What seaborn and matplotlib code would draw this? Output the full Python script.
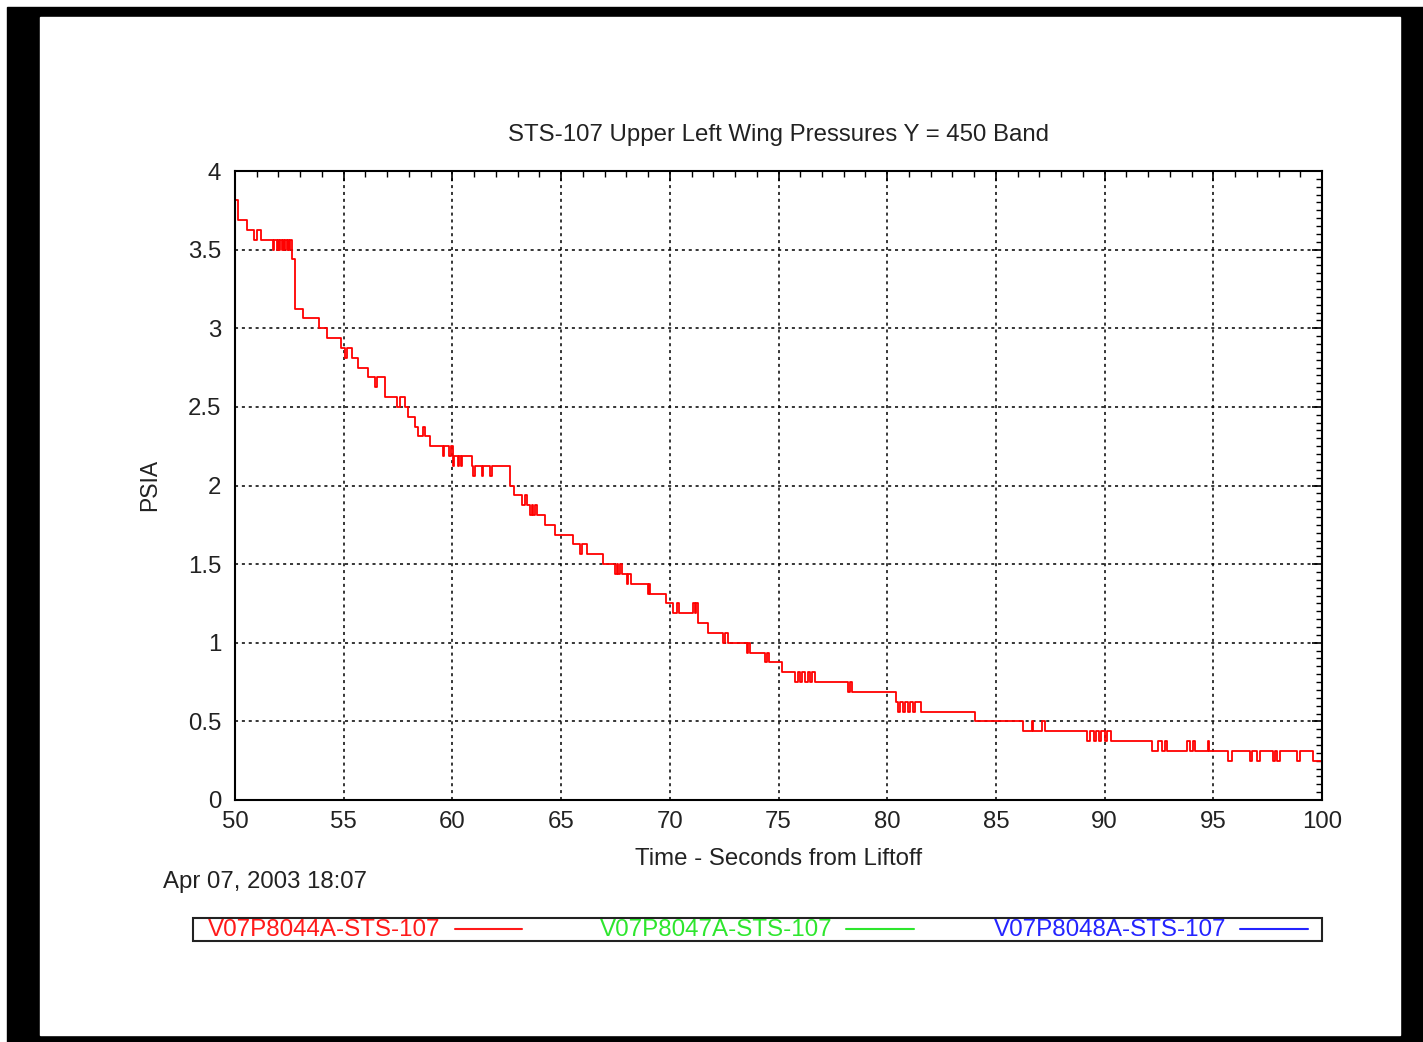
import matplotlib
matplotlib.use("Agg")
import matplotlib.pyplot as plt
from matplotlib.lines import Line2D
from matplotlib.patches import Rectangle
from matplotlib.ticker import MultipleLocator, FuncFormatter
import seaborn as sns
import pandas as pd

# step changes of V07P8044A (seconds from liftoff, psia), held until next change
times = [50.0, 50.15, 50.57, 50.89, 51.0, 51.2,
         51.73, 51.8, 51.92, 51.97, 52.04, 52.09, 52.15, 52.2, 52.27, 52.32,
         52.38, 52.43, 52.5, 52.55, 52.6, 52.76, 53.11, 53.88, 54.25, 54.88,
         55.06, 55.17, 55.37, 55.64, 56.13, 56.44, 56.52, 56.9, 57.44, 57.59,
         57.82, 57.97, 58.28, 58.43, 58.63, 58.74, 58.97,
         59.55, 59.62, 59.85, 59.92, 60.04, 60.08, 60.27, 60.32, 60.38, 60.43,
         60.89, 60.96, 61.05, 61.35, 61.42, 61.73, 61.81, 62.65, 62.83,
         63.19, 63.34, 63.45, 63.57, 63.65, 63.72, 63.8, 63.9, 64.26, 64.72,
         65.56, 65.87, 65.95, 66.18, 66.94, 67.48, 67.55, 67.62, 67.7, 67.78,
         68.02, 68.1, 68.2, 69.01, 69.05, 69.1, 69.82, 70.16, 70.35, 70.42,
         71.08, 71.15, 71.2, 71.31, 71.77, 72.46, 72.54, 72.69, 73.54, 73.6,
         73.69, 74.38, 74.45, 74.55, 75.15, 75.76, 75.91, 76.0, 76.1, 76.2,
         76.35, 76.45, 76.55, 76.68, 78.21, 78.29, 78.37, 80.4, 80.51, 80.6,
         80.72, 80.82, 80.95, 81.05, 81.2, 81.3, 81.54, 84.04, 86.26, 86.64,
         86.72, 87.1, 87.26, 89.18, 89.35, 89.5, 89.6, 89.75, 89.85, 90.0,
         90.1, 90.3, 92.16, 92.47, 92.62, 92.78, 92.85, 93.77, 93.93, 94.08,
         94.16, 94.77, 94.8, 95.69, 95.84, 96.69, 96.77, 97.0, 97.15, 97.76,
         97.85, 97.95, 98.07, 98.83, 98.99, 99.6, 100.0]
psia = [3.8125, 3.6875, 3.625, 3.5625, 3.625, 3.5625,
        3.5, 3.5625, 3.5, 3.5625, 3.5, 3.5625, 3.5, 3.5625, 3.5, 3.5625,
        3.5, 3.5625, 3.5, 3.5625, 3.4375, 3.125, 3.0625, 3.0, 2.9375, 2.875,
        2.8125, 2.875, 2.8125, 2.75, 2.6875, 2.625, 2.6875, 2.5625, 2.5, 2.5625,
        2.5, 2.4375, 2.375, 2.3125, 2.375, 2.3125, 2.25,
        2.1875, 2.25, 2.1875, 2.25, 2.125, 2.1875, 2.125, 2.1875, 2.125, 2.1875,
        2.125, 2.0625, 2.125, 2.0625, 2.125, 2.0625, 2.125, 2.0, 1.9375,
        1.875, 1.9375, 1.875, 1.8125, 1.875, 1.8125, 1.875, 1.8125, 1.75, 1.6875,
        1.625, 1.5625, 1.625, 1.5625, 1.5, 1.4375, 1.5, 1.4375, 1.5, 1.4375,
        1.375, 1.4375, 1.375, 1.3125, 1.375, 1.3125, 1.25, 1.1875, 1.25, 1.1875,
        1.25, 1.1875, 1.25, 1.125, 1.0625, 1.0, 1.0625, 1.0, 0.9375, 1.0,
        0.9375, 0.875, 0.9375, 0.875, 0.8125, 0.75, 0.8125, 0.75, 0.8125, 0.75,
        0.8125, 0.75, 0.8125, 0.75, 0.6875, 0.75, 0.6875, 0.625, 0.5625, 0.625,
        0.5625, 0.625, 0.5625, 0.625, 0.5625, 0.625, 0.5625, 0.5, 0.4375, 0.5,
        0.4375, 0.5, 0.4375, 0.375, 0.4375, 0.375, 0.4375, 0.375, 0.4375, 0.375,
        0.4375, 0.375, 0.3125, 0.375, 0.3125, 0.375, 0.3125, 0.375, 0.3125, 0.375,
        0.3125, 0.375, 0.3125, 0.25, 0.3125, 0.25, 0.3125, 0.25, 0.3125, 0.25,
        0.3125, 0.25, 0.3125, 0.25, 0.3125, 0.25, 0.25]

legend_labels = ["V07P8044A-STS-107", "V07P8047A-STS-107", "V07P8048A-STS-107"]
legend_colors = ["#ff1a1a", "#2ee62e", "#2424ff"]

sns.set_theme(style="white")
plt.rcParams['font.family'] = ['Liberation Sans', 'DejaVu Sans']

W, H = 1423, 1042
fig = plt.figure(figsize=(W / 100, H / 100), dpi=100)


def fx(x):
    return x / W


def fy(y):
    return 1 - y / H


# black scanned frame
fig.patches.append(Rectangle((fx(7), 0), 1, fy(7), transform=fig.transFigure,
                             color='black', zorder=-2))
fig.patches.append(Rectangle((fx(40), fy(1035)), fx(1400) - fx(40), fy(17) - fy(1035),
                             transform=fig.transFigure, color='white', zorder=-1))

ax = fig.add_axes([fx(235), fy(800), fx(1322) - fx(235), fy(171) - fy(800)])
df = pd.DataFrame({'t': times, 'psia': psia})
sns.lineplot(data=df, x='t', y='psia', ax=ax, color='#ff0000', lw=1.3,
             drawstyle='steps-post', estimator=None, sort=False)

ax.set_xlim(50, 100)
ax.set_ylim(0, 4)
ax.set_xlabel('')
ax.set_ylabel('')
ax.xaxis.set_major_locator(MultipleLocator(5))
ax.xaxis.set_minor_locator(MultipleLocator(1))
ax.yaxis.set_major_locator(MultipleLocator(0.5))
ax.yaxis.set_minor_locator(MultipleLocator(0.05))
ax.yaxis.set_major_formatter(FuncFormatter(lambda v, p: '%g' % v))
ax.tick_params(which='both', direction='in', top=True, right=True, color='black')
ax.tick_params(which='major', length=7, width=1.2, labelsize=17.3, labelcolor='#222222')
ax.tick_params(axis='x', which='major', pad=8)
ax.tick_params(axis='y', which='major', pad=10)
ax.tick_params(which='minor', length=4, width=1)
ax.grid(True, which='major', color='black', linestyle=(0, (2, 2.5)), lw=1.1)
for s in ax.spines.values():
    s.set_color('black')
    s.set_linewidth(1.5)

fig.text(fx(779), fy(135), 'STS-107 Upper Left Wing Pressures Y = 450 Band',
         ha='center', va='center', fontsize=17.3, color='#222222')
fig.text(fx(779), fy(859), 'Time - Seconds from Liftoff',
         ha='center', va='center', fontsize=17.3, color='#222222')
fig.text(fx(150), fy(485), 'PSIA', rotation=90,
         ha='center', va='center', fontsize=16.5, color='#222222')
fig.text(fx(163), fy(882), 'Apr 07, 2003 18:07',
         ha='left', va='center', fontsize=17.3, color='#222222')

# legend strip
fig.patches.append(Rectangle((fx(193), fy(941)), fx(1322) - fx(193), fy(918) - fy(941),
                             transform=fig.transFigure, fill=False,
                             edgecolor='#222222', lw=1.5))
text_x = [208, 600, 994]
line_x = [(455, 522), (846, 914), (1240, 1308)]
for lab, col, tx, (l0, l1) in zip(legend_labels, legend_colors, text_x, line_x):
    fig.text(fx(tx), fy(930), lab, ha='left', va='center', fontsize=17.4, color=col)
    fig.add_artist(Line2D([fx(l0), fx(l1)], [fy(929), fy(929)],
                          transform=fig.transFigure, color=col, lw=1.5))

fig.savefig('out.png', dpi=100)
